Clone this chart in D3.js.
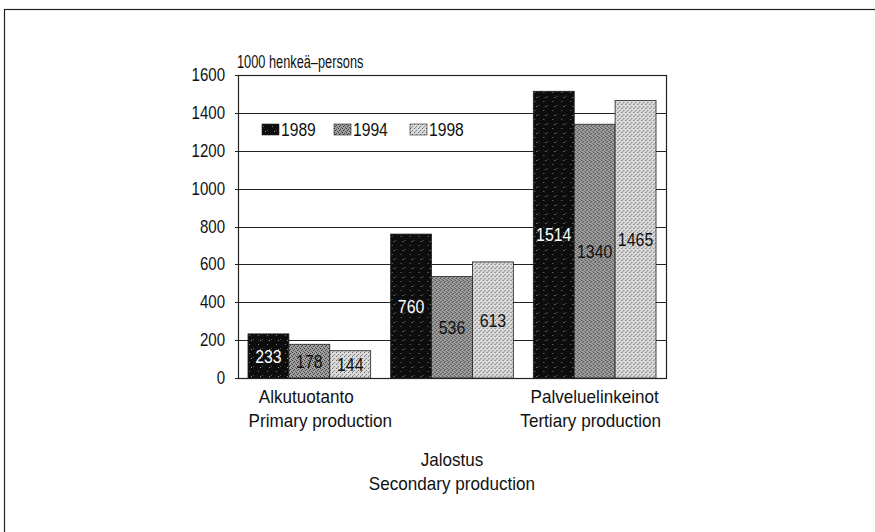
<!DOCTYPE html>
<html>
<head>
<meta charset="utf-8">
<script src="https://cdn.jsdelivr.net/npm/d3@7"></script>
<style>
  body { margin: 0; background: #fff; }
  text { font-family: "Liberation Sans", Arial, sans-serif; fill: #111; }
</style>
</head>
<body>
<script>
// data
var categoriesFi = ['Alkutuotanto', 'Jalostus', 'Palveluelinkeinot'];
var categoriesEn = ['Primary production', 'Secondary production', 'Tertiary production'];
var years = ['1989', '1994', '1998'];
var values1989 = [233, 760, 1514];
var values1994 = [178, 536, 1340];
var values1998 = [144, 613, 1465];
var yTicks = [0, 200, 400, 600, 800, 1000, 1200, 1400, 1600];
var unitLabel = '1000 henkeä–persons';

var series = [values1989, values1994, values1998];

var svgWidth = 875, svgHeight = 532;
var plot = {left: 238, right: 666, top: 75, bottom: 378};

var svg = d3.select('body').append('svg')
	.attr('width', svgWidth)
	.attr('height', svgHeight);

// the reference uses a condensed face, so squeeze Liberation Sans sideways
function squeeze(sel, sx) {
	sel.each(function() {
		var t = d3.select(this);
		var x = +t.attr('x') || 0, y = +t.attr('y') || 0;
		t.attr('x', null).attr('y', null)
		 .attr('transform', 'translate(' + x + ',' + y + ') scale(' + sx + ',1)');
	});
}

// outer frame (cropped on right and bottom)
svg.append('rect')
	.attr('x', 4.5).attr('y', 9.5)
	.attr('width', 1000).attr('height', 1000)
	.attr('fill', 'none').attr('stroke', '#222').attr('stroke-width', 1.2);

// dithered fills
var defs = svg.append('defs');
function dither(id, bg, dots, size) {
	var p = defs.append('pattern')
		.attr('id', id)
		.attr('patternUnits', 'userSpaceOnUse')
		.attr('width', size).attr('height', size);
	p.append('rect').attr('width', size).attr('height', size).attr('fill', bg);
	dots.forEach(function(d) {
		p.append('rect').attr('x', d[0]).attr('y', d[1]).attr('width', 1).attr('height', 1).attr('fill', d[2]);
	});
}
dither('pat1989', '#0d0d0d', [[1, 2, '#777'], [5, 6, '#555'], [3, 7, '#999']], 9);
dither('pat1994', '#a0a0a0', [[0, 0, '#333'], [2, 1, '#444'], [1, 2, '#333'], [3, 3, '#555']], 4);
dither('pat1998', '#dadada', [[0, 0, '#666'], [2, 2, '#777'], [1, 3, '#999']], 4);
var fills = ['url(#pat1989)', 'url(#pat1994)', 'url(#pat1998)'];
var labelColors = ['#fff', '#111', '#111'];

var x0 = d3.scaleBand()
	.domain(categoriesFi)
	.range([plot.left, plot.right])
	.paddingInner(0.14)
	.paddingOuter(0.07);

var x1 = d3.scaleBand()
	.domain(years)
	.range([0, x0.bandwidth()]);

var y = d3.scaleLinear()
	.domain([0, 1600])
	.range([plot.bottom, plot.top]);

// gridlines
svg.append('g')
	.selectAll('line')
	.data(yTicks)
	.enter()
	.append('line')
	.attr('x1', plot.left - 3)
	.attr('x2', plot.right)
	.attr('y1', function(d) { return Math.round(y(d)) + 0.5; })
	.attr('y2', function(d) { return Math.round(y(d)) + 0.5; })
	.attr('stroke', '#222')
	.attr('stroke-width', 1);

// y axis labels
var tickSx = 0.86;
var yAxis = d3.axisLeft(y).tickValues(yTicks).tickFormat(d3.format('d')).tickSize(0).tickPadding(13);
var gy = svg.append('g')
	.attr('transform', 'translate(' + plot.left + ',0)')
	.call(yAxis);
gy.select('.domain').remove();
gy.selectAll('text')
	.style('font-family', '"Liberation Sans", Arial, sans-serif')
	.style('font-size', '17.5px')
	.attr('fill', '#111')
	.attr('x', -13 / tickSx)
	.attr('transform', 'scale(' + tickSx + ',1)');

// plot frame
svg.append('rect')
	.attr('x', plot.left + 0.5).attr('y', plot.top + 0.5)
	.attr('width', plot.right - plot.left).attr('height', plot.bottom - plot.top)
	.attr('fill', 'none').attr('stroke', '#222').attr('stroke-width', 1.2);

// bars
var groups = svg.append('g')
	.selectAll('g')
	.data(categoriesFi)
	.enter()
	.append('g')
	.attr('transform', function(d) { return 'translate(' + x0(d) + ',0)'; });

function barData(d, i) {
	return years.map(function(yr, j) { return {year: yr, value: series[j][i], j: j}; });
}

groups.selectAll('rect')
	.data(barData)
	.enter()
	.append('rect')
	.attr('x', function(d) { return x1(d.year); })
	.attr('y', function(d) { return y(d.value); })
	.attr('width', x1.bandwidth())
	.attr('height', function(d) { return y(0) - y(d.value); })
	.attr('fill', function(d) { return fills[d.j]; })
	.attr('stroke', '#222')
	.attr('stroke-width', 0.8);

// value labels in the middle of each bar
groups.selectAll('text.val')
	.data(barData)
	.enter()
	.append('text')
	.attr('class', 'val')
	.attr('x', function(d) { return x1(d.year) + x1.bandwidth() / 2; })
	.attr('y', function(d) { return (y(d.value) + y(0)) / 2; })
	.attr('dy', '0.36em')
	.attr('text-anchor', 'middle')
	.style('font-size', '18.5px')
	.style('fill', function(d) { return labelColors[d.j]; })
	.text(function(d) { return d.value; })
	.call(squeeze, 0.86);

// category labels (middle one staggered lower)
var rowOffsets = [0, 63, 0];
var finShift = [-3, 0, 0], engShift = [11, 0, -4];
var cats = svg.append('g')
	.selectAll('g')
	.data(categoriesFi)
	.enter()
	.append('g')
	.attr('transform', function(d, i) {
		return 'translate(' + (x0(d) + x0.bandwidth() / 2) + ',' + (plot.bottom + rowOffsets[i]) + ')';
	});
cats.append('text')
	.attr('x', function(d, i) { return finShift[i]; })
	.attr('y', 25)
	.attr('text-anchor', 'middle')
	.style('font-size', '18px')
	.text(function(d) { return d; })
	.call(squeeze, 0.95);
cats.append('text')
	.attr('x', function(d, i) { return engShift[i]; })
	.attr('y', 49)
	.attr('text-anchor', 'middle')
	.style('font-size', '18px')
	.text(function(d, i) { return categoriesEn[i]; })
	.call(squeeze, 0.95);

// unit label
svg.append('text')
	.attr('x', plot.left - 1)
	.attr('y', 68)
	.style('font-size', '17.5px')
	.text(unitLabel)
	.call(squeeze, 0.73);

// legend
var legend = svg.append('g')
	.attr('transform', 'translate(262,124)');
var legendX = [0, 72, 148];
var li = legend.selectAll('g')
	.data(years)
	.enter()
	.append('g')
	.attr('transform', function(d, i) { return 'translate(' + legendX[i] + ',0)'; });
li.append('rect')
	.attr('width', 17).attr('height', 11)
	.attr('fill', function(d, i) { return fills[i]; })
	.attr('stroke', '#222').attr('stroke-width', 0.6);
li.append('text')
	.attr('x', 19)
	.attr('y', 12)
	.style('font-size', '18px')
	.text(function(d) { return d; })
	.call(squeeze, 0.87);
</script>
</body>
</html>
